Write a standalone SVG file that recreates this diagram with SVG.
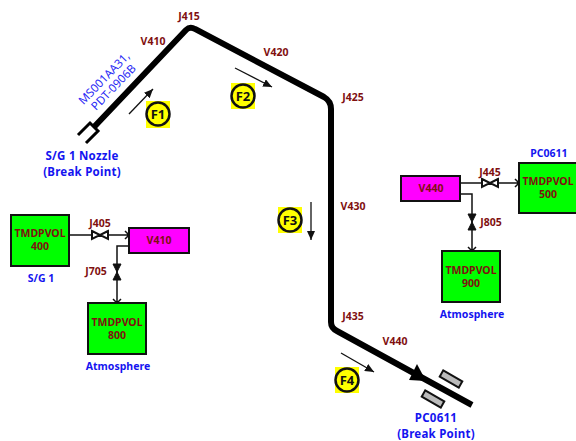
<svg xmlns="http://www.w3.org/2000/svg" width="576" height="441" viewBox="0 0 576 441">
<style>
text{font-family:"Noto Sans","DejaVu Sans",sans-serif;font-weight:700;text-anchor:middle}
.d{font-size:10.5px;fill:#7f1010}
.b{font-size:11.5px;letter-spacing:.25px;fill:#1414f0}
.s{font-size:10.5px;fill:#1414f0}
.n{font-size:11.5px;font-weight:400;fill:#2a2af5}
.f{font-size:13px;fill:#111}
.box{fill:#00ff00;stroke:#111;stroke-width:2}
.vol{fill:#ff00ff;stroke:#111;stroke-width:2}
.l{fill:none;stroke:#111;stroke-width:1.5}
.v{fill:#fff;stroke:#111;stroke-width:2}
.vk{fill:#111;stroke:#111;stroke-width:1}
.fl{fill:none;stroke:#111;stroke-width:1.3;marker-end:url(#ar)}
.badge{fill:#ffff00}
.ring{fill:#ffff00;stroke:#111;stroke-width:2.5}
</style>
<defs>
<marker id="ar" markerUnits="userSpaceOnUse" markerWidth="10" markerHeight="8" refX="9" refY="4" orient="auto"><path d="M0,0L9,4L0,8Z" fill="#111"/></marker>
</defs>
<g id="connectors">
<path d="M94,127L186,30Q190,26 195,29L324,97Q331,101 331,109L331,322Q331,328 337,331L472,405" fill="none" stroke="#000" stroke-width="6" stroke-linecap="butt"/>
<path d="M78,135L90,123L98,131L86,143" fill="none" stroke="#000" stroke-width="3"/>
<path d="M417,364L426,381L409,380Z" fill="#000"/>
<path d="M129,114L153,89" class="fl"/>
<path d="M235,68L272,87" class="fl"/>
<path d="M311,202L311,240" class="fl"/>
<path d="M341,353L374,372" class="fl"/>
<path d="M69,235L129,235M125,231L129,235L125,239" class="l"/>
<path d="M129,246L117,246L117,303M113,299L117,303L121,299" class="l"/>
<path d="M460,183L519,183M515,179L519,183L515,187" class="l"/>
<path d="M460,194L472,194L472,251M468,247L472,251L476,247" class="l"/>
<path d="M92,231L100,235L92,239ZM108,231L100,235L108,239Z" class="v"/>
<path d="M113,264L117,272L121,264ZM113,280L117,272L121,280Z" class="vk"/>
<path d="M482,179L490,183L482,187ZM498,179L490,183L498,187Z" class="v"/>
<path d="M468,214L472,222L476,214ZM468,230L472,222L476,230Z" class="vk"/>
</g>
<g id="nozzle-label"><text class="n" transform="translate(107,81) rotate(-46)"><tspan x="0" y="0">MS001AA31,</tspan><tspan x="0" y="13">PDT-0906B</tspan></text></g>
<g id="break-1"><text class="b" x="82" y="160">S/G 1 Nozzle</text><text class="b" x="82" y="176">(Break Point)</text></g>
<g id="break-2"><text class="b" x="436" y="422">PC0611</text><text class="b" x="436" y="438">(Break Point)</text></g>
<g id="pipe-labels">
<text class="d" x="189" y="20">J415</text>
<text class="d" x="153" y="45">V410</text>
<text class="d" x="276" y="56">V420</text>
<text class="d" x="353" y="101">J425</text>
<text class="d" x="353" y="210">V430</text>
<text class="d" x="353" y="320">J435</text>
<text class="d" x="395" y="345">V440</text>
<text class="d" x="100" y="227">J405</text>
<text class="d" x="96" y="275">J705</text>
<text class="d" x="490" y="176">J445</text>
<text class="d" x="491" y="226">J805</text>
</g>
<g id="tmdpvol-400"><rect class="box" x="11" y="215" width="58" height="51"/><text class="d" x="40" y="237">TMDPVOL</text><text class="d" x="40" y="250">400</text><text class="s" x="41" y="282">S/G 1</text></g>
<g id="v410"><rect class="vol" x="129" y="228" width="60" height="25"/><text class="d" x="159" y="244">V410</text></g>
<g id="tmdpvol-800"><rect class="box" x="88" y="303" width="58" height="51"/><text class="d" x="117" y="326">TMDPVOL</text><text class="d" x="117" y="339">800</text><text class="s" x="118" y="370">Atmosphere</text></g>
<g id="v440"><rect class="vol" x="401" y="176" width="59" height="25"/><text class="d" x="431" y="192">V440</text></g>
<g id="tmdpvol-500"><rect class="box" x="519" y="163" width="59" height="50"/><text class="d" x="548" y="185">TMDPVOL</text><text class="d" x="548" y="198">500</text><text class="s" x="549" y="157">PC0611</text></g>
<g id="tmdpvol-900"><rect class="box" x="442" y="251" width="58" height="51"/><text class="d" x="471" y="274">TMDPVOL</text><text class="d" x="471" y="287">900</text><text class="s" x="472" y="318">Atmosphere</text></g>
<g id="plates">
<rect x="-11" y="-3.5" width="22" height="7" transform="translate(451,379) rotate(30)" fill="#bbb" stroke="#111" stroke-width="2"/>
<rect x="-11" y="-3.5" width="22" height="7" transform="translate(433,399) rotate(30)" fill="#bbb" stroke="#111" stroke-width="2"/>
</g>
<g id="f1"><rect class="badge" x="146" y="101" width="24" height="27"/><circle class="ring" cx="158" cy="114" r="11.5"/><text class="f" x="158" y="119">F1</text></g>
<g id="f2"><rect class="badge" x="231" y="83" width="24" height="26"/><circle class="ring" cx="243" cy="96" r="11.5"/><text class="f" x="243" y="101">F2</text></g>
<g id="f3"><rect class="badge" x="278" y="207" width="24" height="26"/><circle class="ring" cx="290" cy="220" r="11.5"/><text class="f" x="290" y="225">F3</text></g>
<g id="f4"><rect class="badge" x="335" y="367" width="24" height="26"/><circle class="ring" cx="347" cy="380" r="11.5"/><text class="f" x="347" y="385">F4</text></g>
</svg>
